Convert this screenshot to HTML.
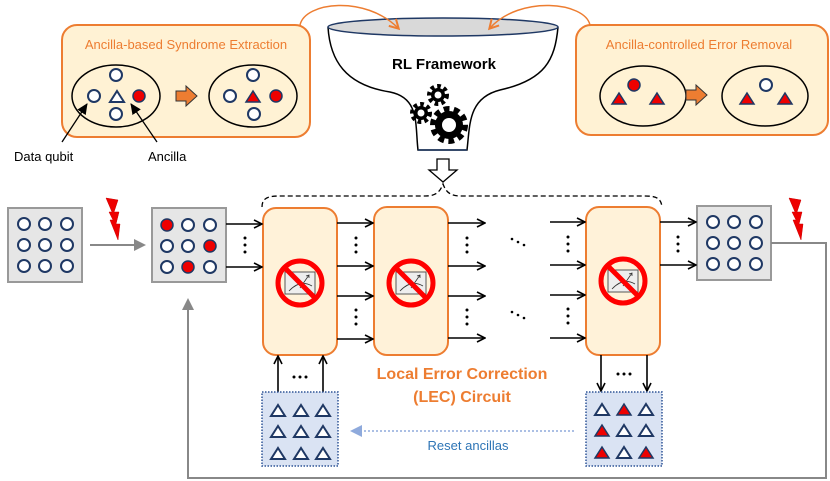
<!DOCTYPE html>
<html><head><meta charset="utf-8"><style>html,body{margin:0;padding:0;background:#fff}svg{display:block}text{font-family:"Liberation Sans",sans-serif}</style></head><body>
<svg width="830" height="481" viewBox="0 0 830 481" xmlns="http://www.w3.org/2000/svg">
<defs>
<marker id="ah" markerWidth="10" markerHeight="10" refX="9" refY="5" orient="auto" markerUnits="userSpaceOnUse"><path d="M1,1 L9,5 L1,9" fill="none" stroke="#000" stroke-width="1.6"/></marker>
<marker id="ag" markerWidth="12" markerHeight="12" refX="10" refY="6" orient="auto" markerUnits="userSpaceOnUse"><path d="M0,0 L12,6 L0,12z" fill="#888"/></marker>
<marker id="ab" markerWidth="12" markerHeight="12" refX="10" refY="6" orient="auto" markerUnits="userSpaceOnUse"><path d="M0,0 L12,6 L0,12z" fill="#8faadc"/></marker>
<marker id="ao" markerWidth="12" markerHeight="12" refX="9" refY="6" orient="auto" markerUnits="userSpaceOnUse"><path d="M1,1 L10,6 L1,11" fill="none" stroke="#ed7d31" stroke-width="2"/></marker>
<marker id="ak" markerWidth="12" markerHeight="12" refX="10" refY="6" orient="auto" markerUnits="userSpaceOnUse"><path d="M0,1 L11,6 L0,11z" fill="#000"/></marker>
<circle id="c" r="6" fill="#fff" stroke="#1f3864" stroke-width="2"/>
<circle id="cr" r="6" fill="#e00" stroke="#1f3864" stroke-width="1.5"/>
<path id="t" d="M0,-6 L7,5 L-7,5z" fill="#fff" stroke="#1f3864" stroke-width="2"/>
<path id="tr" d="M0,-6 L7,5 L-7,5z" fill="#e00" stroke="#1f3864" stroke-width="1.5"/>
<g id="nm">
<circle r="22" fill="none" stroke="#f00" stroke-width="5"/>
<rect x="-15" y="-11" width="30" height="22" fill="#eee" stroke="#555" stroke-width="1"/>
<path d="M-11,8 Q0,-4 12,3 M0,5 L9,-8 M6,-7 L9,-8 L9,-5" fill="none" stroke="#333" stroke-width="0.8"/>
<line x1="-15" y1="-15" x2="15" y2="15" stroke="#f00" stroke-width="5"/>
</g>
<path id="bolt" d="M0,0 L12,2 L8,14 L13,14 L10,26 L14,26 L12,42 L4,22 L7,22 L3,14 L6,14z" fill="#e00" stroke="#c00" stroke-width="0.5"/>
<g id="dv"><circle cx="0" cy="0" r="1.5"/><circle cx="0" cy="7" r="1.5"/><circle cx="0" cy="14" r="1.5"/></g>
<g id="dd"><circle cx="0" cy="0" r="1.3"/><circle cx="6" cy="3" r="1.3"/><circle cx="12" cy="6" r="1.3"/></g>
</defs>

<!-- left box -->
<rect x="62" y="25" width="248" height="112" rx="15" fill="#fff2d4" stroke="#ed7d31" stroke-width="2"/>
<text x="186" y="49" font-size="13" fill="#ed7d31" text-anchor="middle">Ancilla-based Syndrome Extraction</text>
<ellipse cx="116" cy="96" rx="44" ry="31" fill="none" stroke="#000" stroke-width="1.5"/>
<use href="#c" x="116" y="75"/><use href="#c" x="94" y="96"/><use href="#t" x="117" y="97"/><use href="#cr" x="139" y="96"/><use href="#c" x="116" y="114"/>
<path d="M176,91 L186,91 L186,86 L197,96 L186,106 L186,101 L176,101z" fill="#ed7d31" stroke="#333" stroke-width="1"/>
<ellipse cx="253" cy="96" rx="44" ry="31" fill="none" stroke="#000" stroke-width="1.5"/>
<use href="#c" x="253" y="75"/><use href="#c" x="230" y="96"/><use href="#tr" x="253" y="97"/><use href="#cr" x="276" y="96"/><use href="#c" x="254" y="114"/>
<line x1="62" y1="142" x2="87" y2="104" stroke="#000" stroke-width="1.3" marker-end="url(#ak)"/>
<line x1="157" y1="142" x2="131" y2="104" stroke="#000" stroke-width="1.3" marker-end="url(#ak)"/>
<text x="14" y="161" font-size="13" fill="#000">Data qubit</text>
<text x="148" y="161" font-size="13" fill="#000">Ancilla</text>

<!-- funnel -->
<path d="M328,27 C330,60 345,85 390,92 C420,98 415,125 418,150 L467,150 C470,125 468,98 500,90 C545,80 555,60 558,27" fill="#fff" stroke="#000" stroke-width="1.5"/>
<ellipse cx="443" cy="27" rx="115" ry="9" fill="#d9d9d9" stroke="#1f3864" stroke-width="1.5"/>
<line x1="418" y1="150" x2="467" y2="150" stroke="#1f3864" stroke-width="1.5"/>
<text x="444" y="69" font-size="15" font-weight="bold" text-anchor="middle">RL Framework</text>
<g fill="#000">
<circle cx="438" cy="95" r="7"/><circle cx="438" cy="95" r="8.5" fill="none" stroke="#000" stroke-width="5" stroke-dasharray="3.5 3"/>
<circle cx="421" cy="113" r="7"/><circle cx="421" cy="113" r="8.5" fill="none" stroke="#000" stroke-width="5" stroke-dasharray="3.5 3"/>
<circle cx="449" cy="125" r="14"/><circle cx="449" cy="125" r="15.5" fill="none" stroke="#000" stroke-width="7" stroke-dasharray="5.5 4.2"/>
</g>
<circle cx="438" cy="95" r="3.5" fill="#fff"/><circle cx="421" cy="113" r="3.5" fill="#fff"/><circle cx="449" cy="125" r="7" fill="#fff"/>
<path d="M437,159 L449,159 L449,170 L457,170 L443,182 L429,170 L437,170z" fill="#fff" stroke="#000" stroke-width="1.3"/>

<!-- top orange curves -->
<path d="M300,25 C305,2 365,-5 398,28" fill="none" stroke="#ed7d31" stroke-width="1.5" marker-end="url(#ao)"/>
<path d="M590,25 C585,2 520,-5 490,28" fill="none" stroke="#ed7d31" stroke-width="1.5" marker-end="url(#ao)"/>

<!-- right box -->
<rect x="576" y="25" width="252" height="110" rx="15" fill="#fff2d4" stroke="#ed7d31" stroke-width="2"/>
<text x="699" y="49" font-size="13" fill="#ed7d31" text-anchor="middle">Ancilla-controlled Error Removal</text>
<ellipse cx="643" cy="96" rx="43" ry="30" fill="none" stroke="#000" stroke-width="1.5"/>
<use href="#tr" x="619" y="99"/><use href="#cr" x="634" y="85"/><use href="#tr" x="657" y="99"/>
<path d="M686,90 L696,90 L696,85 L707,95 L696,105 L696,100 L686,100z" fill="#ed7d31" stroke="#333" stroke-width="1"/>
<ellipse cx="765" cy="96" rx="43" ry="30" fill="none" stroke="#000" stroke-width="1.5"/>
<use href="#tr" x="747" y="99"/><use href="#c" x="766" y="85"/><use href="#tr" x="785" y="99"/>

<!-- dashed brace -->
<path d="M262,207 C262,198 268,196 280,196 L425,196 C436,196 440,192 443,184 C446,192 450,196 461,196 L645,196 C656,196 661,198 662,207" fill="none" stroke="#000" stroke-width="1.3" stroke-dasharray="5 3"/>

<!-- grids -->
<rect x="8" y="208" width="74" height="74" fill="#e6e6e6" stroke="#999" stroke-width="2"/>
<g transform="translate(24,224)"><use href="#c"/><use href="#c" x="21"/><use href="#c" x="43"/><use href="#c" y="21"/><use href="#c" x="21" y="21"/><use href="#c" x="43" y="21"/><use href="#c" y="42"/><use href="#c" x="21" y="42"/><use href="#c" x="43" y="42"/></g>
<line x1="90" y1="245" x2="144" y2="245" stroke="#888" stroke-width="2" marker-end="url(#ag)"/>
<use href="#bolt" x="106" y="198"/>
<rect x="152" y="208" width="74" height="74" fill="#e6e6e6" stroke="#999" stroke-width="2"/>
<g transform="translate(167,225)"><use href="#cr"/><use href="#c" x="21"/><use href="#c" x="43"/><use href="#c" y="21"/><use href="#c" x="21" y="21"/><use href="#cr" x="43" y="21"/><use href="#c" y="42"/><use href="#cr" x="21" y="42"/><use href="#c" x="43" y="42"/></g>
<rect x="697" y="206" width="74" height="74" fill="#e6e6e6" stroke="#999" stroke-width="2"/>
<g transform="translate(713,222)"><use href="#c"/><use href="#c" x="21"/><use href="#c" x="43"/><use href="#c" y="21"/><use href="#c" x="21" y="21"/><use href="#c" x="43" y="21"/><use href="#c" y="42"/><use href="#c" x="21" y="42"/><use href="#c" x="43" y="42"/></g>
<use href="#bolt" x="789" y="198"/>
<path d="M771,243 L826,243 L826,478 L188,478 L188,300" fill="none" stroke="#888" stroke-width="2" marker-end="url(#ag)"/>

<!-- LEC boxes -->
<rect x="263" y="208" width="74" height="147" rx="13" fill="#fff2d9" stroke="#ed7d31" stroke-width="2"/>
<rect x="374" y="207" width="74" height="148" rx="13" fill="#fff2d9" stroke="#ed7d31" stroke-width="2"/>
<rect x="586" y="207" width="74" height="148" rx="13" fill="#fff2d9" stroke="#ed7d31" stroke-width="2"/>
<use href="#nm" x="300" y="283"/><use href="#nm" x="411" y="283"/><use href="#nm" x="623" y="281"/>

<g stroke="#000" stroke-width="1.6" marker-end="url(#ah)">
<line x1="226" y1="224" x2="262" y2="224"/><line x1="226" y1="267" x2="262" y2="267"/>
<line x1="337" y1="223" x2="373" y2="223"/><line x1="337" y1="266" x2="373" y2="266"/><line x1="337" y1="296" x2="373" y2="296"/><line x1="337" y1="339" x2="373" y2="339"/>
<line x1="448" y1="223" x2="485" y2="223"/><line x1="448" y1="266" x2="485" y2="266"/><line x1="448" y1="296" x2="485" y2="296"/><line x1="448" y1="338" x2="485" y2="338"/>
<line x1="550" y1="222" x2="585" y2="222"/><line x1="550" y1="265" x2="585" y2="265"/><line x1="550" y1="295" x2="585" y2="295"/><line x1="550" y1="338" x2="585" y2="338"/>
<line x1="660" y1="222" x2="696" y2="222"/><line x1="660" y1="265" x2="696" y2="265"/>
<line x1="278" y1="392" x2="278" y2="356"/><line x1="323" y1="392" x2="323" y2="356"/>
<line x1="601" y1="355" x2="601" y2="391"/><line x1="647" y1="355" x2="647" y2="391"/>
</g>
<g fill="#000">
<use href="#dv" x="245" y="238"/>
<use href="#dv" x="356" y="238"/><use href="#dv" x="356" y="310"/>
<use href="#dv" x="467" y="238"/><use href="#dv" x="467" y="310"/>
<use href="#dv" x="568" y="237"/><use href="#dv" x="568" y="309"/>
<use href="#dv" x="678" y="237"/>
<use href="#dd" x="512" y="239"/><use href="#dd" x="512" y="312"/>
<circle cx="294" cy="377" r="1.5"/><circle cx="300" cy="377" r="1.5"/><circle cx="306" cy="377" r="1.5"/>
<circle cx="618" cy="374" r="1.5"/><circle cx="624" cy="374" r="1.5"/><circle cx="630" cy="374" r="1.5"/>
</g>

<!-- ancilla boxes -->
<rect x="262" y="392" width="76" height="74" fill="#dae3f3" stroke="#2f5597" stroke-width="1.5" stroke-dasharray="1.5 1.5"/>
<g transform="translate(278,411)"><use href="#t"/><use href="#t" x="23"/><use href="#t" x="45"/><use href="#t" y="21"/><use href="#t" x="23" y="21"/><use href="#t" x="45" y="21"/><use href="#t" y="43"/><use href="#t" x="23" y="43"/><use href="#t" x="45" y="43"/></g>
<rect x="586" y="392" width="76" height="74" fill="#dae3f3" stroke="#2f5597" stroke-width="1.5" stroke-dasharray="1.5 1.5"/>
<g transform="translate(602,410)"><use href="#t"/><use href="#tr" x="22"/><use href="#t" x="44"/><use href="#tr" y="21"/><use href="#t" x="22" y="21"/><use href="#t" x="44" y="21"/><use href="#tr" y="43"/><use href="#t" x="22" y="43"/><use href="#tr" x="44" y="43"/></g>

<text x="462" y="379" font-size="16" font-weight="bold" fill="#ed7d31" text-anchor="middle">Local Error Correction</text>
<text x="462" y="402" font-size="16" font-weight="bold" fill="#ed7d31" text-anchor="middle">(LEC) Circuit</text>
<line x1="574" y1="431" x2="352" y2="431" stroke="#8faadc" stroke-width="1.5" stroke-dasharray="2 2" marker-end="url(#ab)"/>
<text x="468" y="450" font-size="13" fill="#2e75b6" text-anchor="middle">Reset ancillas</text>
</svg>
</body></html>
